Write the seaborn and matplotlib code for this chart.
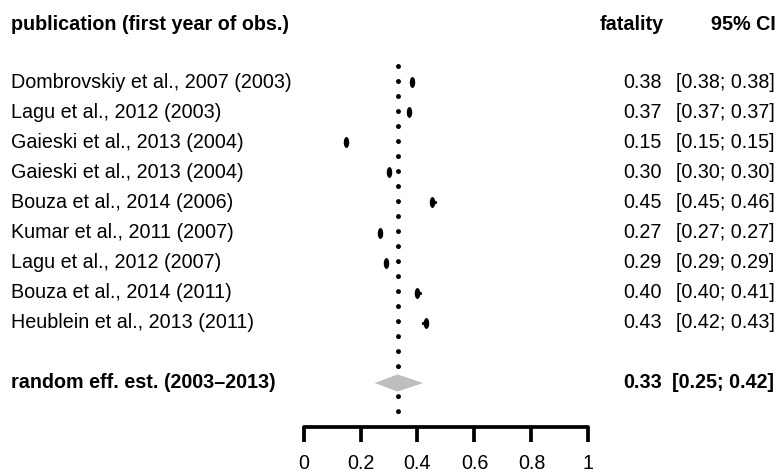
import numpy as np
import pandas as pd
import matplotlib
matplotlib.use("Agg")
import matplotlib.pyplot as plt
import matplotlib.path as mpath
import matplotlib.transforms as mtransforms
import seaborn as sns

# Study-level fatality estimates with 95% confidence intervals
publications = [
    "Dombrovskiy et al., 2007",
    "Lagu et al., 2012",
    "Gaieski et al., 2013",
    "Gaieski et al., 2013",
    "Bouza et al., 2014",
    "Kumar et al., 2011",
    "Lagu et al., 2012",
    "Bouza et al., 2014",
    "Heublein et al., 2013",
]
first_year = [2003, 2003, 2004, 2004, 2006, 2007, 2007, 2011, 2011]
fatality = [0.38, 0.37, 0.15, 0.30, 0.45, 0.27, 0.29, 0.40, 0.43]
ci_lower = [0.38, 0.37, 0.15, 0.30, 0.45, 0.27, 0.29, 0.40, 0.42]
ci_upper = [0.38, 0.37, 0.15, 0.30, 0.46, 0.27, 0.29, 0.41, 0.43]

# Pooled random-effects estimate
pooled_label = "random eff. est. (2003\u20132013)"
pooled_est = 0.33
pooled_lower = 0.25
pooled_upper = 0.42

x_ticks = [0, 0.2, 0.4, 0.6, 0.8, 1]
x_tick_labels = ["0", "0.2", "0.4", "0.6", "0.8", "1"]

header_left = "publication (first year of obs.)"
header_est = "fatality"
header_ci = "95% CI"

W, H = 779, 475
DPI = 100
FS = 14.2

sns.set_theme(style="white")
plt.rcParams["font.family"] = ["Liberation Sans", "DejaVu Sans"]

# rows: header at 0, studies from 2, pooled two rows after the last study
study_rows = np.arange(len(publications)) + 2
pooled_row = study_rows[-1] + 2
axis_row = pooled_row + 1.46

df = pd.DataFrame({
    "label": [f"{p} ({y})" for p, y in zip(publications, first_year)],
    "fatality": fatality,
    "lower": ci_lower,
    "upper": ci_upper,
    "row": study_rows,
})

fig = plt.figure(figsize=(W / DPI, H / DPI), dpi=DPI)
px0, px1 = 303.5, 588.5
row0_px, row_step = 21.8, 30.1
ax = fig.add_axes([px0 / W, 0, (px1 - px0) / W, 1])
ax.set_xlim(0, 1)
ax.set_ylim((H - row0_px) / row_step, -row0_px / row_step)
ax.patch.set_alpha(0)

# reference line at the pooled estimate
ax.plot([pooled_est, pooled_est], [study_rows[0] - 0.53, axis_row - 0.46],
        color="black", lw=3.6, linestyle=(0, (0.001, 3.0)),
        dash_capstyle="round", zorder=1)

# confidence intervals
for _, r in df.iterrows():
    ax.plot([r["lower"], r["upper"]], [r["row"], r["row"]],
            color="black", lw=2.4, solid_capstyle="round", zorder=2)

# study point estimates as narrow vertical blobs
blob = mpath.Path.unit_circle().transformed(
    mtransforms.Affine2D().scale(0.5, 1.0))
sns.scatterplot(data=df, x="fatality", y="row", marker=blob, s=62,
                color="black", linewidth=0, ax=ax, zorder=3, legend=False)

# pooled diamond
dh = 0.285
ax.fill([pooled_lower, pooled_est, pooled_upper, pooled_est],
        [pooled_row, pooled_row - dh, pooled_row, pooled_row + dh],
        color="#BEBEBE", lw=0, zorder=4)

# x axis drawn as a floating spine
for s in ["top", "right", "left"]:
    ax.spines[s].set_visible(False)
ax.spines["bottom"].set_position(("data", axis_row))
ax.spines["bottom"].set_bounds(0, 1)
ax.spines["bottom"].set_linewidth(2.7)
ax.spines["bottom"].set_color("black")
ax.spines["bottom"].set_capstyle("round")
ax.set_xticks(x_ticks)
ax.set_xticklabels(x_tick_labels, fontsize=FS)
ax.tick_params(axis="x", direction="out", length=10.8, width=2.7,
               color="black", pad=8.5, labelcolor="black", bottom=True)
ax.set_yticks([])
ax.set_xlabel("")
ax.set_ylabel("")

# text columns
tr = mtransforms.blended_transform_factory(fig.transFigure, ax.transData)
x_left, x_est, x_ci, x_ci_head = 11 / W, 662 / W, 774.5 / W, 776 / W

def put(x, y, s, ha, bold=False):
    ax.text(x, y, s, transform=tr, ha=ha, va="center", fontsize=FS,
            fontweight="bold" if bold else "normal", color="black",
            clip_on=False)

put(x_left, 0.1, header_left, "left", True)
put(x_est + 1.5 / W, 0.1, header_est, "right", True)
put(x_ci_head, 0.1, header_ci, "right", True)

for _, r in df.iterrows():
    put(x_left, r["row"], r["label"], "left")
    put(x_est, r["row"], f"{r['fatality']:.2f}", "right")
    put(x_ci, r["row"], f"[{r['lower']:.2f}; {r['upper']:.2f}]", "right")

put(x_left, pooled_row, pooled_label, "left", True)
put(x_est, pooled_row, f"{pooled_est:.2f}", "right", True)
put(x_ci, pooled_row, f"[{pooled_lower:.2f}; {pooled_upper:.2f}]", "right", True)

fig.savefig("out.png", dpi=DPI, facecolor="white")
